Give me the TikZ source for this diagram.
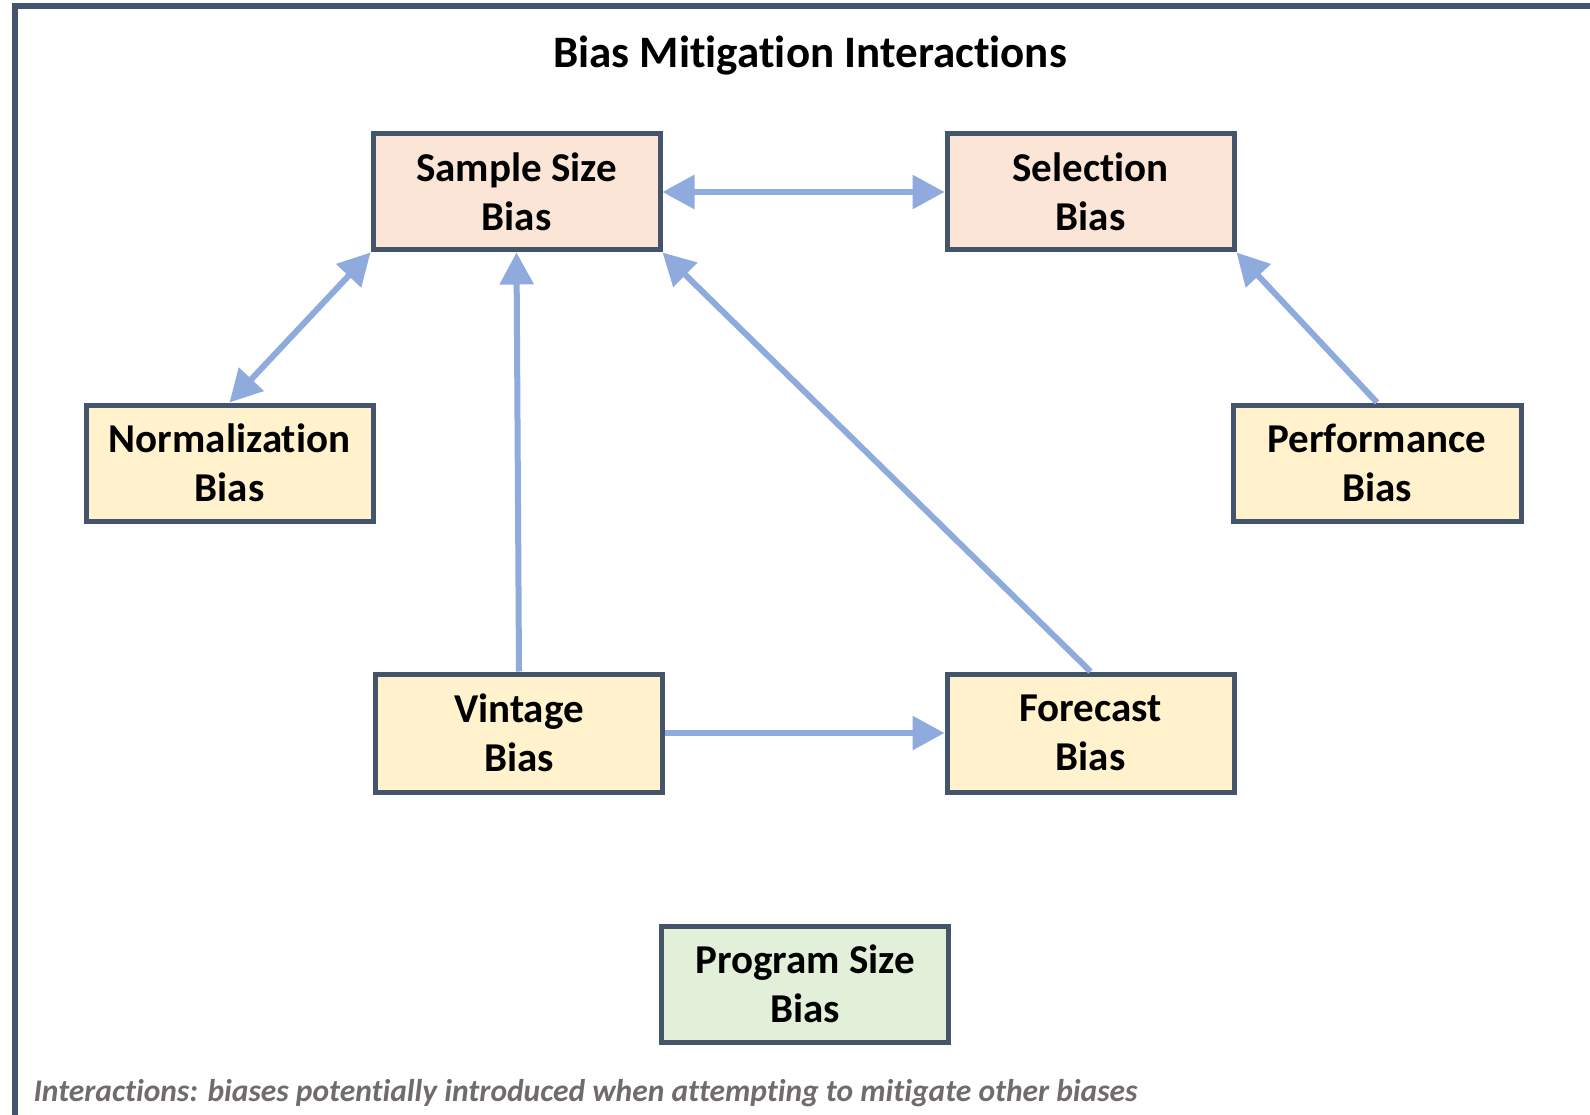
\documentclass[tikz,border=0pt]{standalone}
\usepackage{fontspec}
\setmainfont[Ligatures=NoCommon]{Carlito}
\usetikzlibrary{arrows.meta}
\definecolor{frameblue}{HTML}{44546A}
\definecolor{peach}{HTML}{FBE5D6}
\definecolor{cream}{HTML}{FFF2CC}
\definecolor{mint}{HTML}{E2F0D9}
\definecolor{linkblue}{HTML}{8FAADC}
\definecolor{notegray}{HTML}{706C6C}
\tikzset{
  biasbox/.style={draw=frameblue, line width=5pt, minimum width=287pt, minimum height=116pt,
    inner sep=0pt, align=center, font=\fontsize{41}{49}\selectfont\bfseries},
  link/.style={draw=linkblue, line width=6pt, arrows={-Triangle[length=32pt, width=33pt]}},
  link2/.style={link, arrows={Triangle[length=32pt, width=33pt]-Triangle[length=32pt, width=33pt]}}
}
\begin{document}
\begin{tikzpicture}[x=1pt, y=-1pt]
\useasboundingbox (0,0) rectangle (1590,1115);
\fill[white] (0,0) rectangle (1590,1115);
% outer frame (top and left edges)
\draw[frameblue, line width=6pt] (15,1115) -- (15,6) -- (1590,6);

\node[font=\fontsize{45}{54}\selectfont\bfseries] (title) at (810,56) {Bias Mitigation Interactions};

\node[biasbox, fill=peach] (ss) at (516.5,192) {Sample Size\\Bias};
\node[biasbox, fill=peach] (sel) at (1090.5,192) {Selection\\Bias};
\node[biasbox, fill=cream] (norm) at (229.5,463) {Normalization\\Bias};
\node[biasbox, fill=cream, minimum width=288pt] (perf) at (1377,463) {Performance\\Bias};
\node[biasbox, fill=cream, minimum height=118pt] (vint) at (519,733) {Vintage\\Bias};
\node[biasbox, fill=cream, minimum height=118pt] (fore) at (1090.5,733) {Forecast\\Bias};
\node[biasbox, fill=mint] (prog) at (805,984) {Program Size\\Bias};

\draw[link2] (ss.east) -- (sel.west);
\draw[link2] (ss.south west) -- (norm.north);
\draw[link] (vint.north) -- (ss.south);
\draw[link] (fore.north) -- (ss.south east);
\draw[link] (perf.north) -- (sel.south east);
\draw[link] (vint.east) -- (fore.west);

\node[anchor=west, font=\fontsize{31.5}{36}\selectfont\bfseries\itshape, text=notegray] (note) at (30,1093)
  {Interactions: biases potentially introduced when attempting to mitigate other biases};
\end{tikzpicture}
\end{document}
